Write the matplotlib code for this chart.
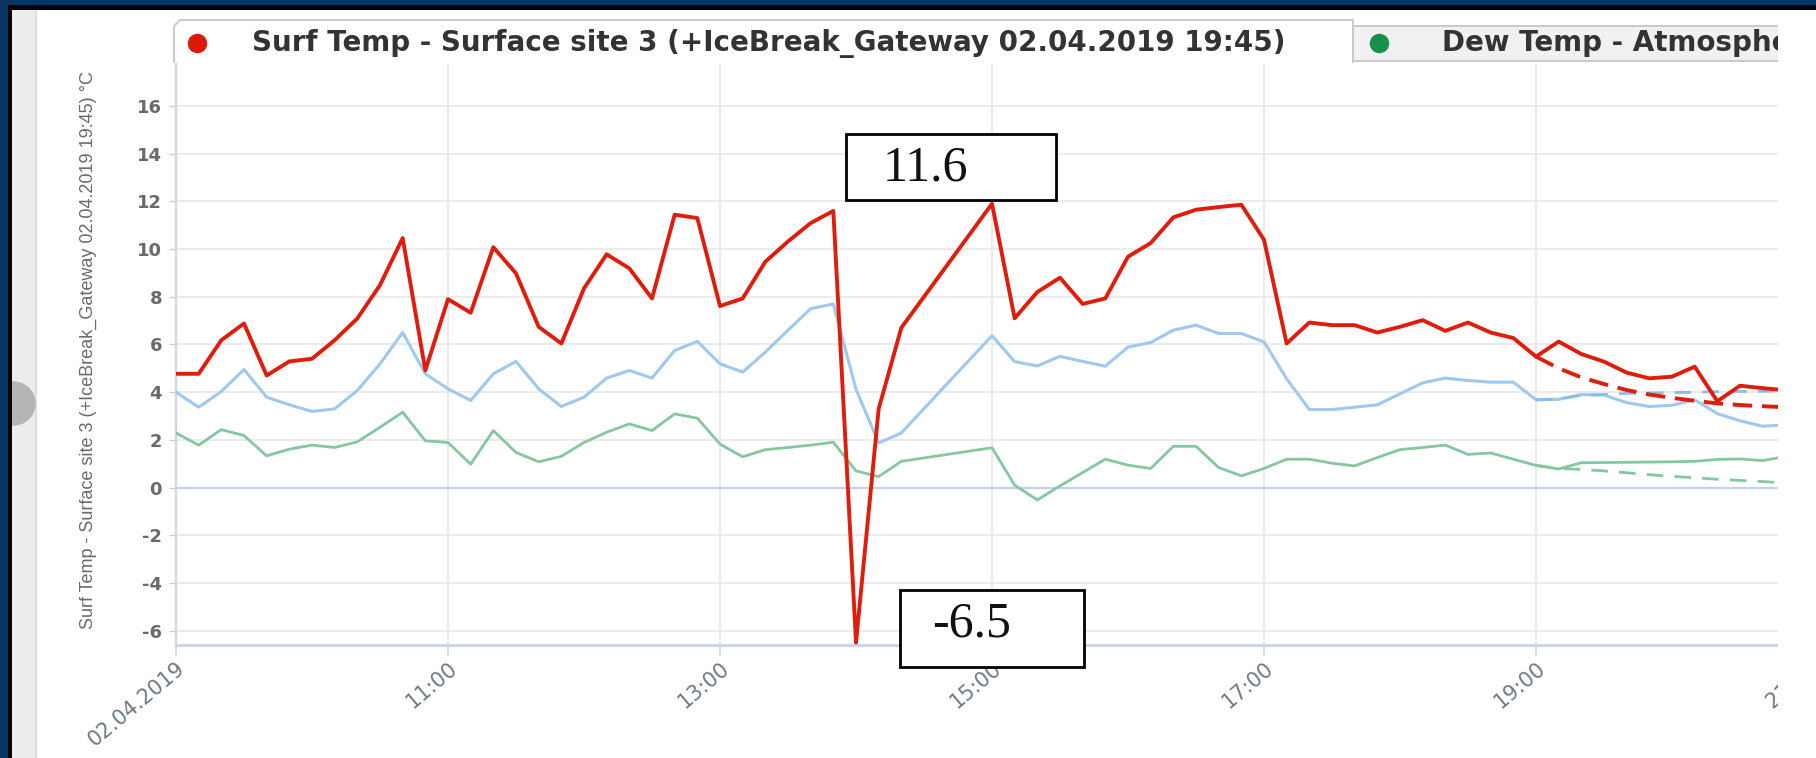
import matplotlib
matplotlib.use("Agg")
import matplotlib.pyplot as plt
from matplotlib.patches import Rectangle
from matplotlib.lines import Line2D
import pandas as pd

# sampling times (10 min); no samples between 14:20 and 15:00
t_morning = pd.date_range("2019-04-02 09:00", "2019-04-02 14:20", freq="10min")
t_afternoon = pd.date_range("2019-04-02 15:00", "2019-04-02 20:50", freq="10min")
t_forecast = pd.date_range("2019-04-02 19:00", "2019-04-02 20:50", freq="10min")

surf_morning = [4.77, 4.77, 6.18, 6.88, 4.70, 5.29, 5.40, 6.18, 7.09, 8.49, 10.46, 4.91,
                7.90, 7.33, 10.08, 8.98, 6.74, 6.04, 8.35, 9.78, 9.19, 7.93, 11.44, 11.30,
                7.61, 7.93, 9.47, 10.32, 11.09, 11.6, -6.5, 3.3, 6.7]
surf_afternoon = [11.9, 7.1, 8.2, 8.8, 7.7, 7.93, 9.68, 10.25, 11.33, 11.65, 11.76, 11.86,
                  10.39, 6.04, 6.92, 6.81, 6.81, 6.50, 6.74, 7.02, 6.57, 6.92, 6.50, 6.27,
                  5.49, 6.12, 5.6, 5.28, 4.82, 4.58, 4.65, 5.07, 3.62, 4.27, 4.17, 4.08]

air_morning = [4.0, 3.37, 4.03, 4.95, 3.79, 3.47, 3.19, 3.30, 4.07, 5.19, 6.50, 4.77,
               4.14, 3.65, 4.77, 5.29, 4.14, 3.40, 3.79, 4.59, 4.91, 4.59, 5.75, 6.13,
               5.19, 4.84, 5.68, 6.60, 7.5, 7.7, 4.12, 1.87, 2.29]
air_afternoon = [6.37, 5.28, 5.1, 5.5, 5.29, 5.09, 5.89, 6.08, 6.60, 6.81, 6.46, 6.46,
                 6.11, 4.56, 3.27, 3.27, 3.37, 3.47, 3.93, 4.39, 4.59, 4.49, 4.42, 4.42,
                 3.68, 3.7, 3.9, 3.88, 3.56, 3.4, 3.45, 3.68, 3.1, 2.8, 2.57, 2.63]

dew_morning = [2.29, 1.78, 2.43, 2.18, 1.33, 1.61, 1.78, 1.68, 1.92, 2.53, 3.16, 1.96,
               1.89, 0.98, 2.39, 1.47, 1.08, 1.31, 1.89, 2.32, 2.67, 2.39, 3.09, 2.91,
               1.82, 1.29, 1.59, 1.68, 1.78, 1.9, 0.7, 0.46, 1.1]
dew_afternoon = [1.67, 0.1, -0.52, 0.07, 0.63, 1.19, 0.94, 0.80, 1.73, 1.73, 0.84, 0.49,
                 0.80, 1.19, 1.19, 1.02, 0.91, 1.26, 1.59, 1.68, 1.78, 1.39, 1.45, 1.19,
                 0.93, 0.78, 1.04, 1.05, 1.06, 1.07, 1.08, 1.1, 1.18, 1.2, 1.13, 1.3]

surf_forecast = [5.49, 5.0, 4.62, 4.34, 4.09, 3.9, 3.76, 3.64, 3.53, 3.46, 3.41, 3.37]
air_forecast = [3.68, 3.72, 3.86, 3.9, 3.95, 3.97, 3.98, 4.0, 4.02, 4.03, 4.04, 4.05]
dew_forecast = [0.93, 0.8, 0.76, 0.7, 0.62, 0.54, 0.47, 0.41, 0.35, 0.3, 0.25, 0.2]

xtick_hours = [9, 11, 13, 15, 17, 19, 21]
xtick_labels = ["02.04.2019", "11:00", "13:00", "15:00", "17:00", "19:00", "21:00"]
yticks = [-6, -4, -2, 0, 2, 4, 6, 8, 10, 12, 14, 16]

legend_1 = "Surf Temp - Surface site 3 (+IceBreak_Gateway 02.04.2019 19:45)"
legend_2 = "Dew Temp - Atmospheric site 3 (+IceBreak_Gateway 02.04.2019 19:45)"
ylabel = "Surf Temp - Surface site 3 (+IceBreak_Gateway 02.04.2019 19:45) °C"
note_max = "11.6"
note_min = "-6.5"

RED = "#de1d0c"
BLUE = "#9fc9ec"
GREEN = "#86c6a0"


def hours(t):
    return t.hour + t.minute / 60


t_all = hours(t_morning.append(t_afternoon))
surf = surf_morning + surf_afternoon
air = air_morning + air_afternoon
dew = dew_morning + dew_afternoon

W, H = 1816, 758
fig = plt.figure(figsize=(W / 100, H / 100), dpi=100)
fig.patch.set_facecolor("white")


def fx(x):
    return x / W


def fy(y):
    return 1 - y / H


def rect(x0, y0, x1, y1, **kw):
    r = Rectangle((fx(x0), fy(y1)), (x1 - x0) / W, (y1 - y0) / H,
                  transform=fig.transFigure, **kw)
    fig.add_artist(r)
    return r


# screenshot frame
rect(12, 0, 36, H, facecolor="#ececec", edgecolor="none", zorder=-2)
rect(35, 0, 37, H, facecolor="#dddddd", edgecolor="none", zorder=-2)
fig.add_artist(Line2D([fx(13)], [fy(403)], marker="o", ms=31, color="#b5b5b5",
                      transform=fig.transFigure, zorder=-1))
rect(0, 0, 12, H, facecolor="#050505", edgecolor="none", zorder=20)
rect(0, 0, 8, H, facecolor="#0c3463", edgecolor="none", zorder=21)
rect(0, 0, W, 10, facecolor="#050505", edgecolor="none", zorder=20)
rect(0, 0, W, 5, facecolor="#0c3463", edgecolor="none", zorder=21)

# plot area
ax = fig.add_axes([fx(176), fy(644.5), (1808 - 176) / W, (644.5 - 64) / H])
ax.set_facecolor("white")

ax.plot(t_all, dew, color=GREEN, lw=2.0, zorder=3)
ax.plot(hours(t_forecast), dew_forecast, color=GREEN, lw=2.0, ls=(0, (6, 4)), zorder=3)

ax.plot(t_all, air, color=BLUE, lw=2.2, zorder=4)
ax.plot(hours(t_forecast), air_forecast, color="#8dbbe6", lw=2.0, ls=(0, (6, 4)), zorder=4)

ax.plot(t_all, surf, color=RED, lw=2.8, zorder=5)
ax.plot(hours(t_forecast), surf_forecast, color=RED, lw=2.8, ls=(0, (5, 2.5)), zorder=5)

ax.set_xlim(9, 21)
ax.set_ylim(-6.58, 17.76)

ax.set_yticks(yticks)
ax.set_yticklabels([str(v) for v in yticks], fontweight="bold")
ax.set_xticks(xtick_hours)
ax.set_xticklabels(xtick_labels, rotation=40, ha="right", rotation_mode="anchor")
ax.tick_params(axis="y", length=5, width=1, color="#cccccc", labelcolor="#6a6a6a",
               labelsize=13, pad=5)
ax.tick_params(axis="x", length=8, width=1.2, color="#ccd6eb", labelcolor="#6f7a85",
               labelsize=15, pad=2)

ax.grid(True, color="#e9e9e9", lw=1.3, zorder=0)
ax.set_axisbelow(True)
ax.axhline(0, color="#c5d2e6", lw=1.6, zorder=1)
for s in ["top", "right"]:
    ax.spines[s].set_visible(False)
ax.spines["left"].set_color("#ccd6eb")
ax.spines["left"].set_linewidth(1.6)
ax.spines["bottom"].set_color("#ccd6eb")
ax.spines["bottom"].set_linewidth(2.2)

fig.text(fx(88), fy(350), ylabel, rotation=90, ha="center", va="center",
         fontsize=13, color="#6a6a6a", family="Liberation Sans")

# legend tabs
rect(174, 20, 1353, 62, facecolor="white", edgecolor="none", zorder=6)
fig.add_artist(Line2D([fx(174), fx(174), fx(180), fx(1353), fx(1353)],
                      [fy(62), fy(26), fy(20), fy(20), fy(62)],
                      color="#c9c9c9", lw=1.4, transform=fig.transFigure, zorder=7))
rect(1353, 26, 1790, 61, facecolor="#f1f1f1", edgecolor="#c9c9c9", lw=1.4, zorder=6)
fig.add_artist(Line2D([fx(197)], [fy(43)], marker="o", ms=13, color="#dd1a0a",
                      transform=fig.transFigure, zorder=8))
fig.add_artist(Line2D([fx(1379)], [fy(43)], marker="o", ms=13, color="#16904a",
                      transform=fig.transFigure, zorder=8))
fig.text(fx(252), fy(43), legend_1, fontsize=20, fontweight="bold", color="#333333",
         ha="left", va="center", zorder=8)
fig.text(fx(1442), fy(43), legend_2, fontsize=20, fontweight="bold", color="#333333",
         ha="left", va="center", zorder=8)

# annotation boxes
rect(846, 134, 1056, 200, facecolor="white", edgecolor="black", lw=2, zorder=12)
fig.text(fx(883), fy(168), note_max, fontsize=36, family="Liberation Serif",
         color="#111111", ha="left", va="center", zorder=13)
rect(900, 590, 1084, 667, facecolor="white", edgecolor="black", lw=2, zorder=12)
fig.text(fx(932), fy(624), note_min, fontsize=36, family="Liberation Serif",
         color="#111111", ha="left", va="center", zorder=13)

# screenshot cut at the right
rect(1778, 10, W, H, facecolor="white", edgecolor="none", zorder=15)

fig.savefig("out.png", dpi=100)
